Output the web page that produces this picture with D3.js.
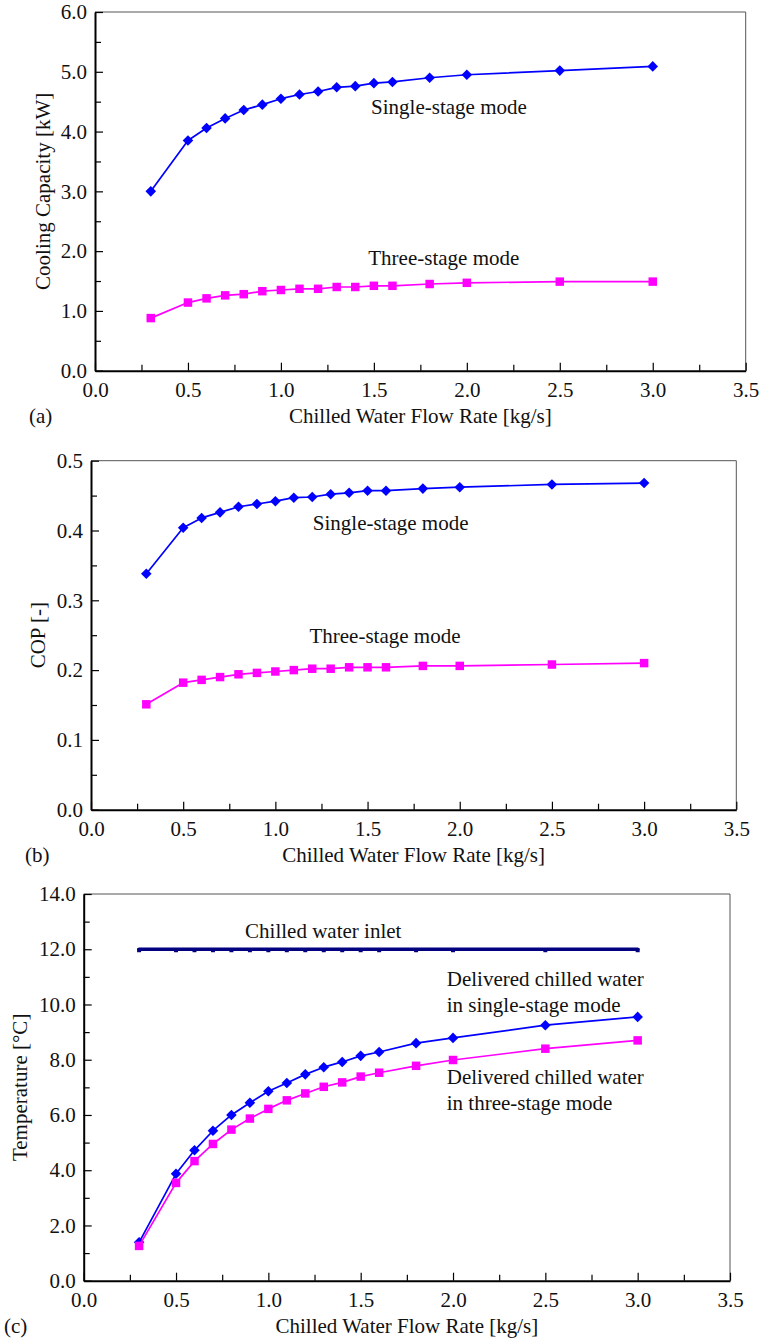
<!DOCTYPE html>
<html>
<head>
<meta charset="utf-8">
<script src="https://cdn.jsdelivr.net/npm/d3@7"></script>
<style>
  body { margin: 0; background: #fff; }
  svg text { font-family: "Liberation Serif", "Times New Roman", serif; font-size: 21px; fill: #111; }
</style>
</head>
<body>
<div id="chart"></div>
<script>
// chilled water flow rate [kg/s], shared by all three panels
const flowRate = [0.3, 0.5, 0.6, 0.7, 0.8, 0.9, 1.0, 1.1, 1.2, 1.3, 1.4, 1.5, 1.6, 1.8, 2.0, 2.5, 3.0];

// (a) cooling capacity [kW]
const capacitySingle = [3.00, 3.85, 4.06, 4.22, 4.36, 4.45, 4.55, 4.62, 4.67, 4.74, 4.76, 4.81, 4.83, 4.90, 4.95, 5.02, 5.09];
const capacityThree  = [0.88, 1.14, 1.21, 1.26, 1.28, 1.33, 1.35, 1.37, 1.37, 1.40, 1.40, 1.42, 1.42, 1.45, 1.47, 1.49, 1.49];

// (b) COP [-]
const copSingle = [0.338, 0.404, 0.418, 0.426, 0.434, 0.438, 0.442, 0.447, 0.448, 0.452, 0.454, 0.457, 0.457, 0.460, 0.462, 0.466, 0.468];
const copThree  = [0.151, 0.182, 0.186, 0.190, 0.194, 0.196, 0.198, 0.200, 0.202, 0.202, 0.204, 0.204, 0.204, 0.206, 0.206, 0.208, 0.210];

// (c) temperatures [°C]
const tempInlet  = [12.0, 12.0, 12.0, 12.0, 12.0, 12.0, 12.0, 12.0, 12.0, 12.0, 12.0, 12.0, 12.0, 12.0, 12.0, 12.0, 12.0];
const tempSingle = [1.39, 3.87, 4.72, 5.43, 6.00, 6.44, 6.86, 7.16, 7.47, 7.73, 7.92, 8.14, 8.28, 8.60, 8.79, 9.25, 9.55];
const tempThree  = [1.26, 3.54, 4.33, 4.95, 5.47, 5.87, 6.22, 6.53, 6.78, 7.02, 7.18, 7.39, 7.53, 7.78, 7.99, 8.40, 8.70];

// axis ticks
const xMajor = [0, 0.5, 1.0, 1.5, 2.0, 2.5, 3.0, 3.5];
const xMinor = [0.25, 0.75, 1.25, 1.75, 2.25, 2.75, 3.25];
const capMajor = [0, 1, 2, 3, 4, 5, 6];
const capMinor = [0.5, 1.5, 2.5, 3.5, 4.5, 5.5];
const copMajor = [0, 0.1, 0.2, 0.3, 0.4, 0.5];
const copMinor = [0.05, 0.15, 0.25, 0.35, 0.45];
const tempMajor = [0, 2, 4, 6, 8, 10, 12, 14];
const tempMinor = [1, 3, 5, 7, 9, 11, 13];

const xTitle = 'Chilled Water Flow Rate [kg/s]';

const BLUE = '#0000ff', MAGENTA = '#ff00ff', NAVY = '#000080';
const FONT = '"Liberation Serif", "Times New Roman", serif';

const panels = [
  {
    tag: '(a)', tagX: 29, box: { left: 95, top: 12, right: 745.7, bottom: 370.7 },
    yMax: 6, yMajor: capMajor, yMinor: capMinor, yTitle: 'Cooling Capacity [kW]', yTitleX: 50,
    series: [
      { values: capacitySingle, color: BLUE, marker: 'diamond' },
      { values: capacityThree, color: MAGENTA, marker: 'square' }
    ],
    notes: [
      { lines: ['Single-stage mode'], x: 1.485, y: 4.29 },
      { lines: ['Three-stage mode'], x: 1.47, y: 1.76 }
    ]
  },
  {
    tag: '(b)', tagX: 25, box: { left: 91, top: 460.7, right: 736.3, bottom: 809.7 },
    yMax: 0.5, yMajor: copMajor, yMinor: copMinor, yTitle: 'COP [-]', yTitleX: 45,
    series: [
      { values: copSingle, color: BLUE, marker: 'diamond' },
      { values: copThree, color: MAGENTA, marker: 'square' }
    ],
    notes: [
      { lines: ['Single-stage mode'], x: 1.203, y: 0.401 },
      { lines: ['Three-stage mode'], x: 1.185, y: 0.239 }
    ]
  },
  {
    tag: '(c)', tagX: 4, box: { left: 83.7, top: 894, right: 730, bottom: 1280.7 },
    yMax: 14, yMajor: tempMajor, yMinor: tempMinor, yTitle: 'Temperature [°C]', yTitleX: 27,
    series: [
      { values: tempInlet, color: NAVY, marker: 'tiny', width: 3.5 },
      { values: tempSingle, color: BLUE, marker: 'diamond' },
      { values: tempThree, color: MAGENTA, marker: 'square' }
    ],
    notes: [
      { lines: ['Chilled water inlet'], x: 0.874, y: 12.41 },
      { lines: ['Delivered chilled water', 'in single-stage mode'], x: 1.966, y: 10.67 },
      { lines: ['Delivered chilled water', 'in three-stage mode'], x: 1.966, y: 7.12 }
    ]
  }
];

const svg = d3.select('#chart')
  .append('svg')
  .attr('width', 763)
  .attr('height', 1342)
  .attr('font-family', FONT);

const fmt = d3.format('.1f');

function drawPanel(p) {
  const b = p.box;
  const x = d3.scaleLinear().domain([0, 3.5]).range([b.left, b.right]);
  const y = d3.scaleLinear().domain([0, p.yMax]).range([b.bottom, b.top]);
  const g = svg.append('g');

  // thin frame on top and right
  g.append('path')
    .attr('d', `M${b.left},${b.top}H${b.right}V${b.bottom}`)
    .attr('fill', 'none')
    .attr('stroke', '#555')
    .attr('stroke-width', 1);

  // minor ticks first, then the labelled axis on top
  g.append('g')
    .attr('transform', `translate(0,${b.bottom})`)
    .call(d3.axisBottom(x).tickValues(xMinor).tickSizeInner(-6).tickSizeOuter(0).tickFormat(''))
    .call(s => s.select('.domain').remove());
  g.append('g')
    .attr('transform', `translate(${b.left},0)`)
    .call(d3.axisLeft(y).tickValues(p.yMinor).tickSizeInner(-6).tickSizeOuter(0).tickFormat(''))
    .call(s => s.select('.domain').remove());

  const xa = g.append('g')
    .attr('transform', `translate(0,${b.bottom})`)
    .call(d3.axisBottom(x).tickValues(xMajor).tickSizeInner(-8).tickSizeOuter(0).tickPadding(11).tickFormat(fmt));
  const ya = g.append('g')
    .attr('transform', `translate(${b.left},0)`)
    .call(d3.axisLeft(y).tickValues(p.yMajor).tickSizeInner(-8).tickSizeOuter(0).tickPadding(8).tickFormat(fmt));

  g.selectAll('.tick line').attr('stroke', '#000').attr('stroke-width', 1.2);
  [xa, ya].forEach(a => {
    a.attr('font-family', FONT).attr('font-size', 21);
    a.select('.domain').attr('stroke', '#000').attr('stroke-width', 2);
    a.selectAll('text').attr('fill', '#111');
  });

  // titles
  g.append('text')
    .attr('x', (b.left + b.right) / 2)
    .attr('y', b.bottom + 52)
    .attr('text-anchor', 'middle')
    .text(xTitle);
  g.append('text')
    .attr('x', p.tagX)
    .attr('y', b.bottom + 52)
    .text(p.tag);
  g.append('text')
    .attr('transform', `translate(${p.yTitleX},${(b.top + b.bottom) / 2}) rotate(-90)`)
    .attr('text-anchor', 'middle')
    .text(p.yTitle);

  const line = d3.line()
    .x((d, i) => x(flowRate[i]))
    .y(d => y(d));

  p.series.forEach(s => {
    g.append('path')
      .datum(s.values)
      .attr('d', line)
      .attr('fill', 'none')
      .attr('stroke', s.color)
      .attr('stroke-width', s.width || 1.7)
      .attr('stroke-linecap', 'round')
      .attr('stroke-linejoin', 'round');

    const size = s.marker === 'diamond' ? 56 : s.marker === 'square' ? 72 : 16;
    const rot = s.marker === 'diamond' ? 45 : 0;
    g.append('g')
      .selectAll('path')
      .data(s.values)
      .join('path')
      .attr('d', d3.symbol(d3.symbolSquare, size))
      .attr('transform', (d, i) => `translate(${x(flowRate[i])},${y(d) + (s.marker === 'tiny' ? 1 : 0)}) rotate(${rot})`)
      .attr('fill', s.color);
  });

  // annotations
  p.notes.forEach(n => {
    const t = g.append('text')
      .attr('x', x(n.x))
      .attr('y', y(n.y));
    n.lines.forEach((l, i) => {
      t.append('tspan')
        .attr('x', x(n.x))
        .attr('dy', i === 0 ? 0 : 25.7)
        .text(l);
    });
  });
}

panels.forEach(drawPanel);
</script>
</body>
</html>
